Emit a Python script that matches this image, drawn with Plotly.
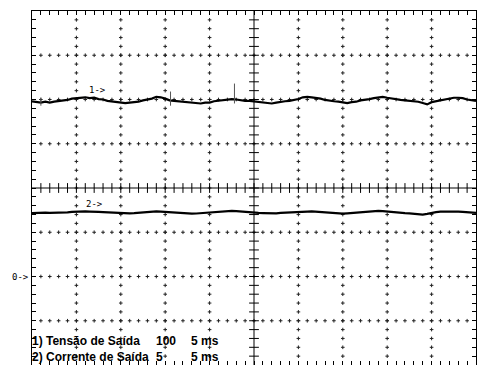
import plotly.graph_objects as go

# ---- data ----
time_ms = [i * 0.5 for i in range(101)]  # 0 .. 50 ms, 5 ms/div

ch1_volts = [396, 394, 393, 395, 393, 395, 396, 398, 399, 402,
             403, 404, 405, 403, 404, 401, 400, 397, 396, 395,
             394, 392, 393, 394, 395, 398, 400, 402, 406, 405,
             402, 398, 397, 396, 396, 394, 394, 392, 391, 393,
             393, 396, 397, 398, 400, 401, 400, 398, 397, 397,
             396, 395, 394, 392, 391, 393, 395, 396, 397, 399,
             401, 405, 406, 405, 404, 402, 399, 397, 396, 395,
             393, 392, 394, 395, 398, 399, 401, 403, 405, 406,
             404, 402, 400, 399, 398, 397, 396, 395, 392, 389,
             394, 396, 397, 399, 402, 404, 404, 403, 400, 398,
             397]

ch2_amps = [7.17, 7.20, 7.17, 7.22, 7.18, 7.20, 7.22, 7.16, 7.24, 7.30,
            7.34, 7.33, 7.35, 7.34, 7.36, 7.31, 7.28, 7.25, 7.22, 7.20,
            7.15, 7.12, 7.14, 7.16, 7.20, 7.24, 7.30, 7.33, 7.35, 7.32,
            7.28, 7.24, 7.20, 7.16, 7.12, 7.14, 7.10, 7.12, 7.16, 7.20,
            7.24, 7.30, 7.34, 7.37, 7.40, 7.42, 7.38, 7.33, 7.30, 7.24,
            7.20, 7.18, 7.17, 7.14, 7.10, 7.13, 7.18, 7.22, 7.26, 7.30,
            7.33, 7.35, 7.34, 7.36, 7.32, 7.28, 7.24, 7.20, 7.16, 7.12,
            7.10, 7.14, 7.18, 7.22, 7.28, 7.32, 7.36, 7.40, 7.42, 7.38,
            7.32, 7.26, 7.22, 7.18, 7.16, 7.14, 7.10, 7.06, 7.00, 7.08,
            7.22, 7.28, 7.32, 7.34, 7.36, 7.38, 7.34, 7.30, 7.26, 7.22,
            7.18]

spike_t = [1.0, 15.6, 22.8]
spike_hi = [404, 418, 436]
spike_lo = [386, 386, 391]

ch_labels = ["1) Tensão de Saída", "2) Corrente de Saída"]
ch_scales = ["100", "5"]
ch_timebase = ["5 ms", "5 ms"]

CH1_RANGE = [-200, 600]   # 100 V/div, zero 2 div below centre
CH2_RANGE = [-10, 30]     # 5 A/div, zero 2 div below centre

fig = go.Figure()

# ---- graticule ----
dot_x, dot_y = [], []
for major in [5, 10, 15, 20, 30, 35, 40, 45]:
    for k in range(1, 40):
        dot_x.append(major); dot_y.append(-4 + 0.2 * k)
for major in [-3, -2, -1, 1, 2, 3]:
    for k in range(1, 50):
        dot_x.append(k); dot_y.append(major)
fig.add_trace(go.Scatter(x=dot_x, y=dot_y, mode="markers", hoverinfo="skip",
                         marker=dict(symbol="cross-thin", size=2.6, color="black",
                                     line=dict(width=1, color="#222222")),
                         showlegend=False))
# centre line ticks
fig.add_trace(go.Scatter(x=list(range(1, 50)), y=[0] * 49, mode="markers", hoverinfo="skip",
                         marker=dict(symbol="line-ns", size=7,
                                     line=dict(width=1, color="black")),
                         showlegend=False))
fig.add_trace(go.Scatter(x=[25] * 39, y=[-4 + 0.2 * k for k in range(1, 40)], mode="markers",
                         hoverinfo="skip",
                         marker=dict(symbol="line-ew", size=7,
                                     line=dict(width=1, color="black")),
                         showlegend=False))
fig.add_shape(type="line", x0=25, x1=25, y0=-4, y1=4, xref="x", yref="y",
              line=dict(color="black", width=1))
fig.add_shape(type="line", x0=0, x1=50, y0=0, y1=0, xref="x", yref="y",
              line=dict(color="black", width=1))

# ---- signals ----
fig.add_trace(go.Scatter(x=time_ms, y=ch1_volts, yaxis="y2", mode="lines",
                         line=dict(color="black", width=2.2), showlegend=False))
sx, sy = [], []
for t, hi, lo in zip(spike_t, spike_hi, spike_lo):
    sx += [t, t, None]; sy += [hi, lo, None]
fig.add_trace(go.Scatter(x=sx, y=sy, yaxis="y2", mode="lines",
                         line=dict(color="#555555", width=1), showlegend=False))
fig.add_trace(go.Scatter(x=time_ms, y=ch2_amps, yaxis="y3", mode="lines",
                         line=dict(color="black", width=2.2), showlegend=False))

# ---- annotations ----
mono = dict(family="DejaVu Sans Mono", size=9, color="black")
fig.add_annotation(x=6.2, y=2.21, xref="x", yref="y", text="1->", showarrow=False,
                   xanchor="left", yanchor="middle", font=mono)
fig.add_annotation(x=5.8, y=-0.37, xref="x", yref="y", text="2->", showarrow=False,
                   xanchor="left", yanchor="middle", font=mono)
fig.add_annotation(x=-0.05, xref="paper", y=-2, yref="y", text="0->", showarrow=False,
                   xanchor="left", yanchor="middle", font=mono)

txt = dict(family="Liberation Sans", size=12, color="black")
columns = [(0, -1, ch_labels), (13.9, 0, ch_scales), (17.8, 0, ch_timebase)]
for xpos, xs, col in columns:
    fig.add_annotation(x=xpos, xshift=xs, y=0, xref="x", yref="paper",
                       text="<br>".join("<b>%s</b>" % s for s in col),
                       showarrow=False, xanchor="left", yanchor="bottom", align="left",
                       font=txt, borderpad=0)

ax_common = dict(showgrid=False, zeroline=False, showline=True, linecolor="black",
                 linewidth=1, mirror="ticks", ticks="inside", ticklen=4, tickwidth=1,
                 tickcolor="black", showticklabels=False)
fig.update_layout(
    width=477, height=365,
    margin=dict(l=32, r=1, t=11, b=0),
    paper_bgcolor="white", plot_bgcolor="white",
    xaxis=dict(range=[0, 50], tick0=0, dtick=1, **ax_common),
    yaxis=dict(range=[-4, 4], tick0=-4, dtick=0.2, **ax_common),
    yaxis2=dict(range=CH1_RANGE, overlaying="y", visible=False),
    yaxis3=dict(range=CH2_RANGE, overlaying="y", visible=False),
)

fig.write_html("out.html", config={"displayModeBar": False},
               post_script="document.body.style.margin='0';")
